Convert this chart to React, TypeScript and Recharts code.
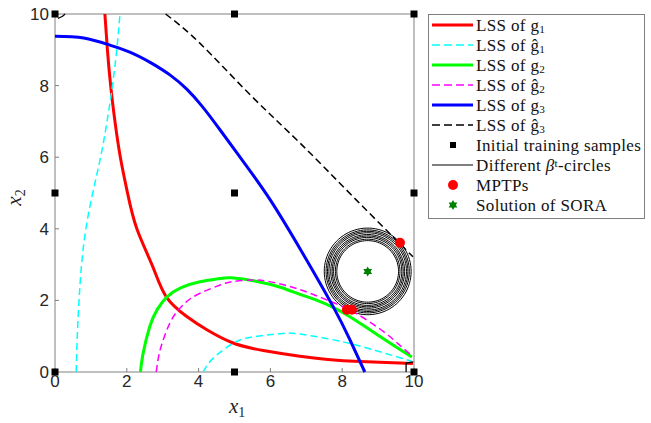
import { Scatter, ScatterChart, XAxis, YAxis } from 'recharts'

type Pt = { x: number; y: number }

// axis ticks (both axes)
const ticks = [0, 2, 4, 6, 8, 10]

// limit-state surfaces
const g1: Pt[] = [
  { x: 1.39, y: 10 }, { x: 1.46, y: 9 }, { x: 1.55, y: 8 }, { x: 1.67, y: 7 },
  { x: 1.82, y: 6 }, { x: 2.02, y: 5 }, { x: 2.28, y: 4 }, { x: 2.72, y: 2.95 },
  { x: 3.1, y: 2.1 }, { x: 3.67, y: 1.55 }, { x: 4.23, y: 1.18 }, { x: 4.96, y: 0.81 },
  { x: 5.8, y: 0.6 }, { x: 6.82, y: 0.44 }, { x: 7.6, y: 0.35 }, { x: 8.5, y: 0.29 },
  { x: 9.97, y: 0.24 },
]
const g1HatLeft: Pt[] = [
  { x: 0.59, y: 0 }, { x: 0.62, y: 1 }, { x: 0.67, y: 2 }, { x: 0.74, y: 3 },
  { x: 0.86, y: 4 }, { x: 1.05, y: 5 }, { x: 1.27, y: 6 }, { x: 1.45, y: 7 },
  { x: 1.6, y: 8 }, { x: 1.72, y: 9 }, { x: 1.81, y: 10 },
]
const g1HatRight: Pt[] = [
  { x: 4.13, y: 0 }, { x: 4.4, y: 0.38 }, { x: 4.96, y: 0.8 }, { x: 5.5, y: 0.98 },
  { x: 6.27, y: 1.07 }, { x: 6.82, y: 1.06 }, { x: 7.94, y: 0.86 }, { x: 8.86, y: 0.62 },
  { x: 9.61, y: 0.4 }, { x: 9.94, y: 0.3 },
]
const g2: Pt[] = [
  { x: 2.38, y: 0 }, { x: 2.45, y: 0.5 }, { x: 2.64, y: 1.27 }, { x: 2.85, y: 1.75 },
  { x: 3.12, y: 2.1 }, { x: 3.5, y: 2.35 }, { x: 4.04, y: 2.52 }, { x: 4.6, y: 2.61 },
  { x: 4.9, y: 2.63 }, { x: 5.63, y: 2.53 }, { x: 6.3, y: 2.36 }, { x: 6.82, y: 2.17 },
  { x: 7.3, y: 2.0 }, { x: 7.76, y: 1.8 }, { x: 8.17, y: 1.57 }, { x: 8.68, y: 1.24 },
  { x: 9.15, y: 0.93 }, { x: 9.61, y: 0.63 }, { x: 9.94, y: 0.42 },
]
const g2Hat: Pt[] = [
  { x: 2.82, y: 0 }, { x: 2.9, y: 0.5 }, { x: 3.05, y: 1.0 }, { x: 3.3, y: 1.55 },
  { x: 3.65, y: 1.95 }, { x: 4.04, y: 2.2 }, { x: 4.6, y: 2.43 }, { x: 4.96, y: 2.53 },
  { x: 5.5, y: 2.57 }, { x: 5.9, y: 2.54 }, { x: 6.5, y: 2.4 }, { x: 7.1, y: 2.2 },
  { x: 7.8, y: 1.92 }, { x: 8.4, y: 1.63 }, { x: 9.15, y: 1.13 }, { x: 9.6, y: 0.75 },
  { x: 9.95, y: 0.45 },
]
const g3: Pt[] = [
  { x: 0, y: 9.38 }, { x: 0.8, y: 9.33 }, { x: 1.53, y: 9.13 }, { x: 2.1, y: 8.93 },
  { x: 2.65, y: 8.65 }, { x: 3.2, y: 8.3 }, { x: 3.67, y: 7.9 }, { x: 4.1, y: 7.42 },
  { x: 4.6, y: 6.76 }, { x: 5.3, y: 5.8 }, { x: 6.0, y: 4.8 }, { x: 6.85, y: 3.4 },
  { x: 7.74, y: 1.84 }, { x: 8.2, y: 0.93 }, { x: 8.63, y: 0 },
]
const g3Hat: Pt[] = [
  { x: 3.08, y: 10 }, { x: 4.04, y: 9.18 }, { x: 5.43, y: 7.75 }, { x: 6.82, y: 6.4 },
  { x: 8.3, y: 4.9 }, { x: 9.97, y: 3.22 },
]
// small stray pieces of the g3-hat contour at the corners
const g3HatCornerTop: Pt[] = [{ x: 0.08, y: 9.88 }, { x: 0.2, y: 9.93 }, { x: 0.28, y: 10 }]
const g3HatCornerBottom: Pt[] = [{ x: 9.78, y: 0 }, { x: 9.78, y: 0.25 }, { x: 9.98, y: 0.28 }]

const samples: Pt[] = [
  { x: 0, y: 0 }, { x: 5, y: 0 }, { x: 10, y: 0 },
  { x: 0, y: 5 }, { x: 5, y: 5 }, { x: 10, y: 5 },
  { x: 0, y: 10 }, { x: 5, y: 10 }, { x: 10, y: 10 },
]
const mptps: Pt[] = [{ x: 9.61, y: 3.61 }, { x: 8.13, y: 1.74 }, { x: 8.27, y: 1.74 }]
const soraSolution: Pt[] = [{ x: 8.71, y: 2.81 }]
const betaRadii = [0.86, 0.9, 0.95, 0.99, 1.03, 1.08, 1.12, 1.16, 1.21]

const circlePoints = (c: Pt, r: number): Pt[] => {
  const pts: Pt[] = []
  for (let a = 0; a <= 360; a += 4) {
    const t = (a * Math.PI) / 180
    pts.push({ x: c.x + r * Math.cos(t), y: c.y + r * Math.sin(t) })
  }
  return pts
}

const curves = [
  { key: 'g1', data: g1, color: '#ff0000', width: 3, dash: undefined },
  { key: 'g1h-a', data: g1HatLeft, color: '#00ffff', width: 1.5, dash: '7 4' },
  { key: 'g1h-b', data: g1HatRight, color: '#00ffff', width: 1.5, dash: '7 4' },
  { key: 'g2', data: g2, color: '#00ff00', width: 3, dash: undefined },
  { key: 'g2h', data: g2Hat, color: '#ff00ff', width: 1.5, dash: '7 4' },
  { key: 'g3', data: g3, color: '#0000ff', width: 3, dash: undefined },
  { key: 'g3h', data: g3Hat, color: '#000000', width: 1.5, dash: '7 4' },
]

const noDot = () => <g />

const squareDot = (p: any) => <rect x={p.cx - 3.5} y={p.cy - 3.5} width={7} height={7} fill="#000" />
const redDot = (p: any) => <circle cx={p.cx} cy={p.cy} r={5} fill="#ff0000" />
const hexStar = (p: any) => {
  const pts: string[] = []
  for (let i = 0; i < 12; i++) {
    const r = i % 2 === 0 ? 5 : 2.9
    const t = (i * Math.PI) / 6 - Math.PI / 2
    pts.push(`${p.cx + r * Math.cos(t)},${p.cy + r * Math.sin(t)}`)
  }
  return <polygon points={pts.join(' ')} fill="#008000" />
}

const legendItems = [
  { kind: 'line', color: '#ff0000', dash: false, label: <>LSS of g<sub>1</sub></> },
  { kind: 'line', color: '#00ffff', dash: true, label: <>LSS of ĝ<sub>1</sub></> },
  { kind: 'line', color: '#00ff00', dash: false, label: <>LSS of g<sub>2</sub></> },
  { kind: 'line', color: '#ff00ff', dash: true, label: <>LSS of ĝ<sub>2</sub></> },
  { kind: 'line', color: '#0000ff', dash: false, label: <>LSS of g<sub>3</sub></> },
  { kind: 'line', color: '#000000', dash: true, label: <>LSS of ĝ<sub>3</sub></> },
  { kind: 'square', color: '#000', dash: false, label: <>Initial training samples</> },
  { kind: 'thin', color: '#000', dash: false, label: <>Different <i>β</i><sup>t</sup>-circles</> },
  { kind: 'dot', color: '#ff0000', dash: false, label: <>MPTPs</> },
  { kind: 'star', color: '#008000', dash: false, label: <>Solution of SORA</> },
]

function LegendMark({ item }: { item: (typeof legendItems)[number] }) {
  return (
    <svg width={44} height={20} style={{ display: 'block', flex: 'none' }}>
      {item.kind === 'line' && (
        <line x1={0} x2={41} y1={10} y2={10} stroke={item.color}
          strokeWidth={item.dash ? 1.5 : 3} strokeDasharray={item.dash ? '8 4' : undefined} />
      )}
      {item.kind === 'thin' && <line x1={0} x2={41} y1={10} y2={10} stroke="#000" strokeWidth={1.2} />}
      {item.kind === 'square' && <rect x={18} y={7} width={6} height={6} fill="#000" />}
      {item.kind === 'dot' && <circle cx={21} cy={10} r={5} fill="#ff0000" />}
      {item.kind === 'star' && hexStar({ cx: 21, cy: 10 })}
    </svg>
  )
}

const subStyle = { fontSize: '0.7em', verticalAlign: '-0.3em', lineHeight: 0 }
const tickFont = { fill: '#262626', fontSize: 17, fontFamily: 'Liberation Sans, Arial, sans-serif' }

export default function App() {
  return (
    <div style={{ position: 'relative', width: 651, height: 423, background: '#fff' }}>
      <style>{'body{margin:0} .lg sub{font-size:0.66em;vertical-align:-0.2em;line-height:0} .lg sup{font-size:0.66em;vertical-align:0.4em;line-height:0}'}</style>
      <ScatterChart width={651} height={423} margin={{ top: 13, right: 236, bottom: 0, left: 0 }}>
        <XAxis type="number" dataKey="x" domain={[0, 10]} ticks={ticks} height={51}
          stroke="#808080" tickSize={-4} tickMargin={7} tick={tickFont} />
        <YAxis type="number" dataKey="y" domain={[0, 10]} ticks={ticks} width={55}
          stroke="#808080" tickSize={-4} tickMargin={10} tick={tickFont} />
        <XAxis xAxisId="top" orientation="top" type="number" dataKey="x" domain={[0, 10]} ticks={ticks}
          height={1} stroke="#808080" tickSize={-4} tick={false} />
        <YAxis yAxisId="right" orientation="right" type="number" dataKey="y" domain={[0, 10]} ticks={ticks}
          width={1} stroke="#808080" tickSize={-4} tick={false} />
        {betaRadii.map((r) => (
          <Scatter key={`c${r}`} data={circlePoints(soraSolution[0], r)} line={{ stroke: '#000', strokeWidth: 1 }}
            lineJointType="linear" shape={noDot} isAnimationActive={false} />
        ))}
        {curves.map((c) => (
          <Scatter key={c.key} data={c.data}
            line={{ stroke: c.color, strokeWidth: c.width, strokeDasharray: c.dash }}
            lineJointType="natural" shape={noDot} isAnimationActive={false} />
        ))}
        <Scatter data={g3HatCornerTop} line={{ stroke: '#000', strokeWidth: 1.3 }} lineJointType="natural"
          shape={noDot} isAnimationActive={false} />
        <Scatter data={g3HatCornerBottom} line={{ stroke: '#000', strokeWidth: 1.3 }} lineJointType="linear"
          shape={noDot} isAnimationActive={false} />
        <Scatter data={samples} shape={squareDot} isAnimationActive={false} />
        <Scatter data={mptps} shape={redDot} isAnimationActive={false} />
        <Scatter data={soraSolution} shape={hexStar} isAnimationActive={false} />
      </ScatterChart>

      <div style={{ position: 'absolute', left: 229, top: 394, fontFamily: 'Liberation Serif, serif', fontStyle: 'italic', fontSize: 21, color: '#262626' }}>
        x<span style={{ ...subStyle, fontStyle: 'normal', fontSize: 14 }}>1</span>
      </div>
      <div style={{ position: 'absolute', left: 6, top: 185, transform: 'rotate(-90deg)', fontFamily: 'Liberation Serif, serif', fontStyle: 'italic', fontSize: 21, color: '#262626' }}>
        x<span style={{ ...subStyle, fontStyle: 'normal', fontSize: 14 }}>2</span>
      </div>

      <div className="lg" style={{ position: 'absolute', left: 428, top: 14, width: 217, height: 205, border: '1px solid #7f7f7f', background: '#fff', padding: '0 0 0 3px', boxSizing: 'border-box' }}>
        {legendItems.map((it, i) => (
          <div key={i} style={{ display: 'flex', alignItems: 'center', height: 20, lineHeight: '17px', fontFamily: 'Liberation Serif, serif', fontSize: 17, letterSpacing: 0.35, color: '#111', whiteSpace: 'nowrap' }}>
            <LegendMark item={it} />
            <span>{it.label}</span>
          </div>
        ))}
      </div>
    </div>
  )
}
